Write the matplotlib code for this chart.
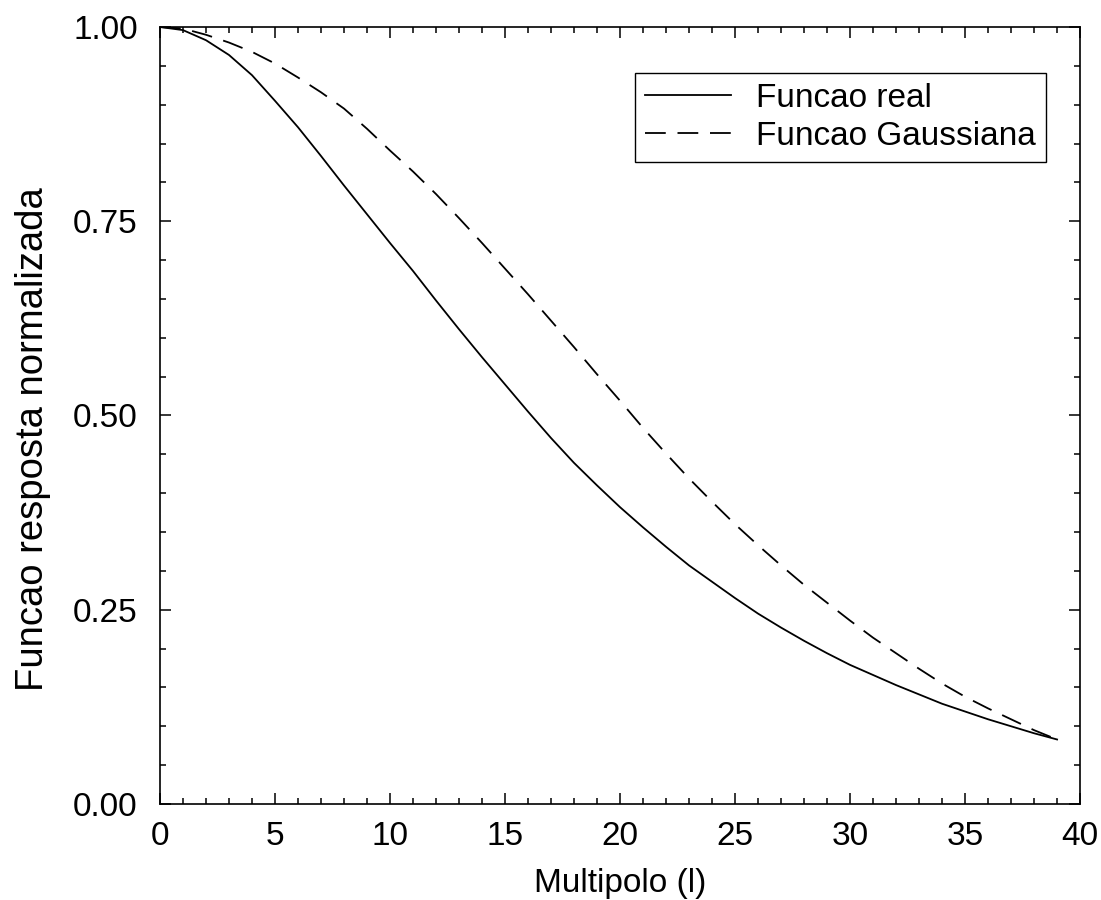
import matplotlib.pyplot as plt
import numpy as np

# multipole index and the two normalized response functions
multipolo = np.arange(0, 40)

funcao_real = [1.000, 0.996, 0.983, 0.964, 0.938, 0.905, 0.871, 0.834, 0.796, 0.759,
               0.722, 0.686, 0.648, 0.611, 0.575, 0.540, 0.505, 0.471, 0.439, 0.410,
               0.382, 0.356, 0.331, 0.307, 0.286, 0.265, 0.245, 0.227, 0.210, 0.194,
               0.179, 0.166, 0.153, 0.141, 0.129, 0.119, 0.109, 0.100, 0.091, 0.083]

funcao_gauss = [1.000, 0.998, 0.990, 0.980, 0.968, 0.953, 0.935, 0.916, 0.895, 0.869,
                0.841, 0.814, 0.785, 0.754, 0.722, 0.689, 0.656, 0.622, 0.588, 0.553,
                0.519, 0.484, 0.451, 0.419, 0.389, 0.360, 0.333, 0.307, 0.282, 0.259,
                0.236, 0.214, 0.194, 0.174, 0.155, 0.138, 0.123, 0.109, 0.095, 0.083]

labels = ['Funcao real', 'Funcao Gaussiana']

plt.rcParams['font.family'] = ['Liberation Sans', 'DejaVu Sans']

fig = plt.figure(figsize=(11.01, 9.0), dpi=100)
ax = fig.add_axes([0.1453, 0.1067, 0.8357, 0.8633])

ax.plot(multipolo, funcao_real, color='black', lw=1.3, label=labels[0])
ax.plot(multipolo, funcao_gauss, color='black', lw=1.3,
        linestyle=(0, (11.5, 6.5)), label=labels[1])

ax.set_xlim(0, 40)
ax.set_ylim(0, 1)
ax.set_xticks(np.arange(0, 41, 5))
ax.set_xticks(np.arange(0, 41, 1), minor=True)
ax.set_yticks([0, 0.25, 0.5, 0.75, 1.0])
ax.set_yticks(np.arange(0, 1.0001, 0.05), minor=True)
ax.set_yticklabels(['0.00', '0.25', '0.50', '0.75', '1.00'])

ax.tick_params(which='both', direction='in', top=True, right=True,
               labelsize=24, width=1.1, color='black')
ax.tick_params(which='major', length=8)
ax.tick_params(which='minor', length=4.5)
ax.tick_params(axis='x', pad=12)
ax.tick_params(axis='y', pad=16)
for sp in ax.spines.values():
    sp.set_linewidth(1.2)

ax.set_xlabel('Multipolo (l)', fontsize=24, labelpad=12)
ax.set_ylabel('Funcao resposta normalizada', fontsize=27.5, labelpad=12)
ax.yaxis.set_label_coords(-0.118, 0.47)

leg = ax.legend(loc='upper left', bbox_to_anchor=(0.516, 0.941), fontsize=24,
                frameon=True, fancybox=False, framealpha=1, edgecolor='black',
                borderaxespad=0, borderpad=0.3, handlelength=2.6,
                handletextpad=0.75, labelspacing=0.2)
leg.get_frame().set_linewidth(1.0)

fig.savefig('out.png', dpi=100)
